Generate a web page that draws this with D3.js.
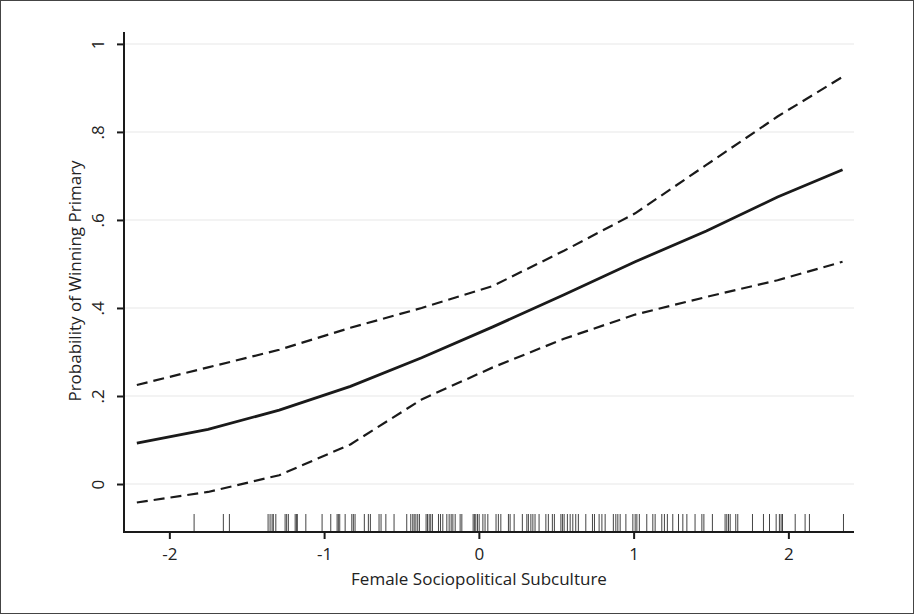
<!DOCTYPE html>
<html><head><meta charset="utf-8">
<script src="https://cdn.jsdelivr.net/npm/d3@7"></script>
<style>html,body{margin:0;padding:0;background:#fff;}svg{display:block;}</style>
</head><body>
<svg id="chart" width="914" height="614"></svg>
<script>
// ---- data ----
const xGrid = [-2.21, -1.75, -1.29, -0.83, -0.37, 0.09, 0.55, 1.01, 1.47, 1.93, 2.35];
const predicted = [0.093, 0.124, 0.168, 0.222, 0.287, 0.357, 0.430, 0.505, 0.575, 0.652, 0.714];
const upperCI  = [0.225, 0.265, 0.305, 0.355, 0.400, 0.450, 0.530, 0.615, 0.725, 0.835, 0.925];
const lowerCI  = [-0.042, -0.018, 0.020, 0.090, 0.192, 0.265, 0.330, 0.385, 0.425, 0.463, 0.505];
const rugValues = [-1.840,-1.651,-1.612,-1.362,-1.349,-1.336,-1.328,-1.312,-1.252,-1.242,-1.231,-1.187,-1.179,-1.173,-1.118,
 -1.013,-0.957,-0.916,-0.908,-0.899,-0.864,-0.821,-0.811,-0.800,-0.740,-0.714,-0.701,-0.645,-0.632,-0.601,-0.548,
 -0.466,-0.440,-0.427,-0.418,-0.407,-0.395,-0.384,-0.341,-0.332,-0.321,-0.311,-0.300,-0.261,-0.248,-0.233,-0.207,
 -0.192,-0.179,-0.168,-0.153,-0.121,-0.110,-0.037,-0.029,-0.020,-0.009,0.002,0.026,0.040,0.058,0.111,0.126,0.142,
 0.191,0.202,0.228,0.281,0.310,0.320,0.336,0.349,0.363,0.389,0.433,0.449,0.475,0.488,0.530,0.540,0.551,0.572,0.590,
 0.607,0.626,0.643,0.691,0.734,0.747,0.777,0.795,0.816,0.869,0.885,0.898,0.913,0.950,0.995,1.010,1.021,1.037,1.085,
 1.124,1.139,1.182,1.199,1.218,1.253,1.290,1.318,1.344,1.397,1.441,1.454,1.509,1.591,1.602,1.613,1.624,1.660,1.673,
 1.768,1.839,1.878,1.921,1.942,1.953,1.962,2.044,2.108,2.136,2.356];
const xTicks = [-2, -1, 0, 1, 2];
const xTickLabels = ["-2", "-1", "0", "1", "2"];
const yTicks = [0, 0.2, 0.4, 0.6, 0.8, 1];
const yTickLabels = ["0", ".2", ".4", ".6", ".8", "1"];
const xTitle = "Female Sociopolitical Subculture";
const yTitle = "Probability of Winning Primary";

// ---- layout ----
const svg = d3.select("#chart");
const W = 914, H = 614;
const pL = 124, pR = 854, pT = 32, pB = 532;
const font = "'Open Sans', 'Noto Sans', sans-serif";
const fs = 17;

svg.append("rect").attr("x", 0.5).attr("y", 0.5).attr("width", W - 1).attr("height", H - 1)
  .attr("fill", "#fff").attr("stroke", "#444").attr("stroke-width", 1);

const x = d3.scaleLinear().domain([-2.293, 2.424]).range([pL, pR]);
const y = d3.scaleLinear().domain([-0.109, 1.027]).range([pB, pT]);

// gridlines
svg.append("g").selectAll("line").data(yTicks).join("line")
  .attr("x1", pL + 1).attr("x2", pR)
  .attr("y1", d => y(d)).attr("y2", d => y(d))
  .attr("stroke", "#efefef").attr("stroke-width", 1.5);

// rug
svg.append("g").selectAll("line").data(rugValues).join("line")
  .attr("x1", d => x(d)).attr("x2", d => x(d))
  .attr("y1", pB - 18).attr("y2", pB - 1)
  .attr("stroke", "#444").attr("stroke-width", 1);

// axes
const yAxis = d3.axisLeft(y).tickValues(yTicks).tickFormat((d, i) => yTickLabels[i]).tickSize(7);
const gy = svg.append("g").attr("transform", `translate(${pL},0)`).call(yAxis);
gy.select(".domain").remove();
gy.append("line").attr("x1", 0).attr("x2", 0).attr("y1", pT).attr("y2", pB + 1)
  .attr("stroke", "#1a1a1a").attr("stroke-width", 2);
gy.selectAll(".tick line").attr("stroke", "#1a1a1a").attr("stroke-width", 2);
gy.selectAll(".tick text")
  .attr("font-family", font).attr("font-size", fs).attr("fill", "#222")
  .attr("x", null).attr("y", null).attr("dy", null)
  .attr("text-anchor", "middle")
  .attr("transform", "translate(-20,0) rotate(-90)");

const xAxis = d3.axisBottom(x).tickValues(xTicks).tickFormat((d, i) => xTickLabels[i]).tickSize(7).tickPadding(9);
const gx = svg.append("g").attr("transform", `translate(0,${pB})`).call(xAxis);
gx.select(".domain").remove();
gx.append("line").attr("x1", pL - 1).attr("x2", pR).attr("y1", 0).attr("y2", 0)
  .attr("stroke", "#1a1a1a").attr("stroke-width", 2);
gx.selectAll(".tick line").attr("stroke", "#1a1a1a").attr("stroke-width", 2);
gx.selectAll(".tick text").attr("font-family", font).attr("font-size", fs).attr("fill", "#222");

// titles
svg.append("text").attr("x", 479).attr("y", 585).attr("text-anchor", "middle")
  .attr("font-family", font).attr("font-size", fs).attr("fill", "#222").text(xTitle);
svg.append("text").attr("transform", `translate(81,281) rotate(-90)`).attr("text-anchor", "middle")
  .attr("font-family", font).attr("font-size", fs).attr("fill", "#222").text(yTitle);

// lines
const mk = vals => d3.line().x((d, i) => x(xGrid[i])).y(d => y(d))(vals);
svg.append("path").attr("d", mk(upperCI)).attr("fill", "none").attr("stroke", "#1a1a1a")
  .attr("stroke-width", 2.2).attr("stroke-dasharray", "11,6");
svg.append("path").attr("d", mk(lowerCI)).attr("fill", "none").attr("stroke", "#1a1a1a")
  .attr("stroke-width", 2.2).attr("stroke-dasharray", "11,6");
svg.append("path").attr("d", mk(predicted)).attr("fill", "none").attr("stroke", "#1a1a1a")
  .attr("stroke-width", 2.8);
</script>
</body></html>
